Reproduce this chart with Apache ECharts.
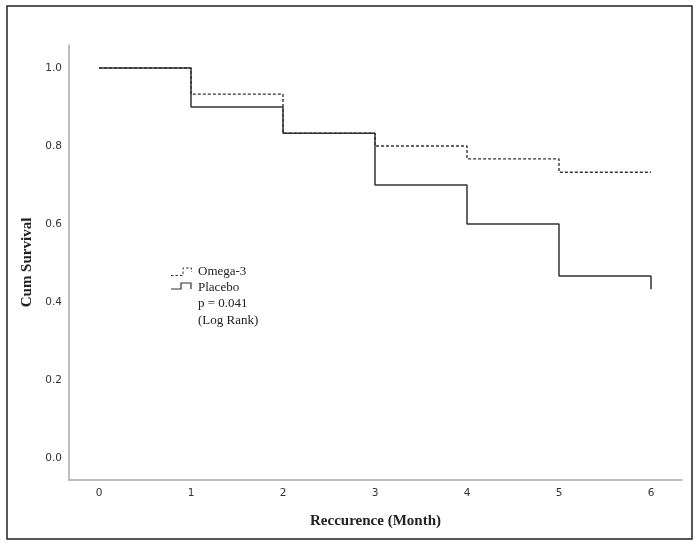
<!DOCTYPE html>
<html>
<head>
<meta charset="utf-8">
<script src="https://cdn.jsdelivr.net/npm/echarts@6/dist/echarts.min.js"></script>
<style>
  html, body { margin: 0; padding: 0; background: #fff; }
  #chart { width: 700px; height: 547px; }
</style>
</head>
<body>
<div id="chart"></div>
<script>
  // survival steps (month, cumulative survival)
  var omegaTime = [0, 1, 2, 3, 4, 5, 6];
  var omegaSurv = [1.0, 0.933, 0.833, 0.8, 0.767, 0.733, 0.733];
  var placeboTime = [0, 1, 2, 3, 4, 5, 6, 6];
  var placeboSurv = [1.0, 0.9, 0.833, 0.7, 0.6, 0.467, 0.467, 0.433];

  var xTicks = [0, 1, 2, 3, 4, 5, 6];
  var yTicks = [0, 0.2, 0.4, 0.6, 0.8, 1.0];

  function pairs(t, s) {
    var out = [];
    for (var i = 0; i < t.length; i++) out.push([t[i], s[i]]);
    return out;
  }

  var lineColor = '#333';
  var myChart = echarts.init(document.getElementById('chart'));

  myChart.setOption({
    animation: false,
    grid: { left: 69, top: 45, right: 18, bottom: 67 },
    xAxis: {
      type: 'value',
      min: -0.326,
      max: 6.337,
      name: 'Reccurence (Month)',
      nameLocation: 'middle',
      nameGap: 34,
      nameTextStyle: { fontFamily: 'Liberation Serif', fontWeight: 'bold', fontSize: 15, color: '#222' },
      axisLine: { onZero: false, lineStyle: { color: '#aaa', width: 1.5 } },
      axisTick: { show: false },
      splitLine: { show: false },
      axisLabel: {
        customValues: xTicks,
        margin: 8,
        fontFamily: 'DejaVu Sans',
        fontSize: 10.5,
        color: '#333'
      }
    },
    yAxis: {
      type: 'value',
      min: -0.056,
      max: 1.059,
      name: 'Cum Survival',
      nameLocation: 'middle',
      nameGap: 33,
      nameTextStyle: { fontFamily: 'Liberation Serif', fontWeight: 'bold', fontSize: 15, color: '#222' },
      axisLine: { show: true, onZero: false, lineStyle: { color: '#aaa', width: 1.5 } },
      axisTick: { show: false },
      splitLine: { show: false },
      axisLabel: {
        customValues: yTicks,
        margin: 7,
        fontFamily: 'DejaVu Sans',
        fontSize: 10.5,
        color: '#333',
        formatter: function (v) { return v.toFixed(1); }
      }
    },
    series: [
      {
        name: 'Omega-3',
        type: 'line',
        step: 'end',
        symbol: 'none',
        data: pairs(omegaTime, omegaSurv),
        lineStyle: { color: lineColor, width: 1.4, type: [3, 2] },
        z: 3
      },
      {
        name: 'Placebo',
        type: 'line',
        step: 'end',
        symbol: 'none',
        data: pairs(placeboTime, placeboSurv),
        lineStyle: { color: lineColor, width: 1.5 },
        z: 2
      }
    ],
    graphic: [
      // outer frame
      {
        type: 'rect',
        shape: { x: 7, y: 6, width: 685, height: 533 },
        style: { fill: 'none', stroke: '#222', lineWidth: 1.5 },
        silent: true
      },
      // legend icons
      {
        type: 'polyline',
        shape: { points: [[171, 275.5], [183, 275.5], [183, 268], [191.5, 268], [191.5, 272]] },
        style: { fill: 'none', stroke: lineColor, lineWidth: 1, lineDash: [2.5, 2] }
      },
      {
        type: 'polyline',
        shape: { points: [[171, 289], [181, 289], [181, 283], [191, 283], [191, 289]] },
        style: { fill: 'none', stroke: lineColor, lineWidth: 1.2 }
      },
      {
        type: 'text', left: 198, top: 265,
        style: { text: 'Omega-3', font: '13px "Liberation Serif"', fill: '#222' }
      },
      {
        type: 'text', left: 198, top: 281,
        style: { text: 'Placebo', font: '13px "Liberation Serif"', fill: '#222' }
      },
      {
        type: 'text', left: 198, top: 297,
        style: { text: 'p = 0.041', font: '13px "Liberation Serif"', fill: '#222' }
      },
      {
        type: 'text', left: 198, top: 314,
        style: { text: '(Log Rank)', font: '13px "Liberation Serif"', fill: '#222' }
      }
    ]
  });

  window.addEventListener('resize', function () {
    myChart.resize();
  });
</script>
</body>
</html>
